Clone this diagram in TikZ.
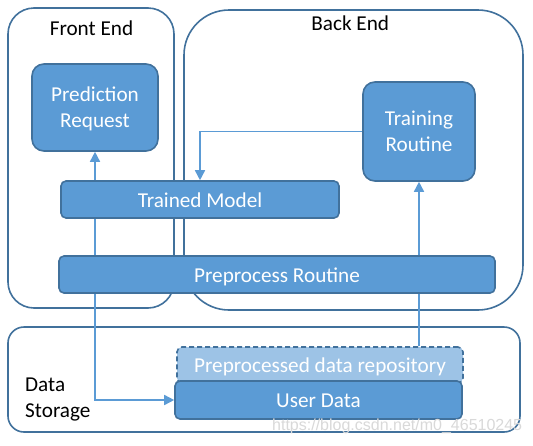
\documentclass[tikz,border=0pt]{standalone}
\usepackage{fontspec}
\setmainfont{Carlito}
\newfontfamily\wmfont{Liberation Sans}
\usetikzlibrary{arrows.meta}
\definecolor{boxfill}{HTML}{5B9BD5}
\definecolor{boxline}{HTML}{41719C}
\definecolor{lightfill}{HTML}{9DC3E6}
\pgfdeclarelayer{bg}
\pgfdeclarelayer{mid}
\pgfsetlayers{bg,mid,main}
\tikzset{
  container/.style={draw=boxline, line width=1.6pt, fill=white, inner sep=0pt},
  blockbox/.style={draw=boxline, line width=1.6pt, fill=boxfill, text=white, inner sep=0pt, align=center,
    font=\fontsize{21.2}{26}\selectfont, text height=17pt, text depth=2pt},
  twoline/.style={text height=43pt, text depth=2.5pt},
  lbl/.style={inner sep=0pt, font=\fontsize{21.2}{26}\selectfont, text=black},
  conn/.style={draw=boxfill, line width=1.6pt, -{Triangle[length=10pt,width=10pt]}},
  conn2/.style={draw=boxfill, line width=1.6pt, {Triangle[length=10pt,width=10pt]}-{Triangle[length=10pt,width=10pt]}}
}
\begin{document}
\begin{tikzpicture}[x=1pt,y=-1pt]
\useasboundingbox (0,0) rectangle (533,445);
\begin{pgfonlayer}{bg}
\node[container, rounded corners=26pt, minimum width=166pt, minimum height=300pt] (front) at (91,158) {};
\node[container, rounded corners=45pt, minimum width=339pt, minimum height=300pt] (back) at (353.5,160) {};
\node[container, rounded corners=16pt, minimum width=512pt, minimum height=105pt] (storage) at (264,379.5) {};
\end{pgfonlayer}
\node[lbl, anchor=base] (frontlbl) at (91.5,35) {Front End};
\node[lbl, anchor=base] (backlbl) at (350.2,30.7) {Back End};
\node[lbl, anchor=base west, align=left] (storagelbl) at (25,417.7) {Data\\Storage};
\node[blockbox, twoline, rounded corners=12pt, minimum width=126pt, minimum height=87pt] (pred) at (95,107.5) {Prediction\\Request};
\node[blockbox, twoline, rounded corners=12pt, minimum width=112pt, minimum height=99pt] (train) at (419,131.5) {Training\\Routine};
\node[blockbox, rounded corners=5pt, minimum width=278pt, minimum height=37pt] (tm) at (200,199.5) {Trained Model};
\node[blockbox, rounded corners=5pt, minimum width=436pt, minimum height=37pt] (pr) at (277,274.5) {Preprocess Routine};
\node[blockbox, rounded corners=5pt, dashed, dash pattern=on 5pt off 3pt, fill=lightfill, minimum width=286pt, minimum height=36pt] (repo) at (320,365) {Preprocessed data repository};
\node[blockbox, rounded corners=5pt, minimum width=287pt, minimum height=38pt] (ud) at (318.5,400) {User Data};
\node[inner sep=0pt, anchor=west, font=\wmfont\fontsize{16}{18}\selectfont, text=gray!30] (wm) at (272,426) {https://blog.csdn.net/m0\_46510245};
\begin{pgfonlayer}{mid}
\draw[conn] (train.west) -| (tm.north);
\draw[conn2] (pred.south) |- (ud.west);
\draw[conn] (train.south |- repo.north) -- (train.south);
\end{pgfonlayer}
\end{tikzpicture}
\end{document}
